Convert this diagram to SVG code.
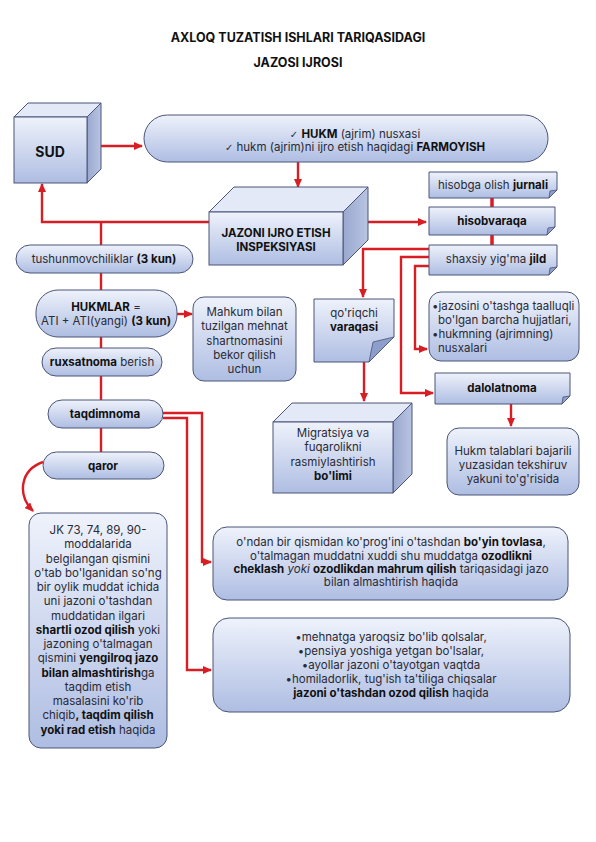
<svg xmlns="http://www.w3.org/2000/svg" width="596" height="842" viewBox="0 0 596 842">
<style>
text{font-family:Inter,"Open Sans","DejaVu Sans",sans-serif;font-size:11.5px;fill:#2a2a35;text-anchor:middle}
.t{font-size:12.5px;font-weight:700;fill:#111}
.b{font-weight:700;fill:#111}
.box{fill:url(#g);stroke:#4b5478;stroke-width:1}
.top{fill:#e3e9f6;stroke:#4b5478;stroke-width:1}
.side{fill:url(#gs);stroke:#4b5478;stroke-width:1}
.fold{fill:#8d9ecb;stroke:#4b5478;stroke-width:0.8}
.c{fill:none;stroke:#d81e25;stroke-width:2.4}
.cm{fill:none;stroke:#d81e25;stroke-width:2.4;marker-end:url(#a)}
.ck{font-family:"DejaVu Sans",sans-serif;font-size:10px}
</style>
<defs>
<linearGradient id="g" x1="0" y1="0" x2="0" y2="1"><stop offset="0" stop-color="#eef2fb"/><stop offset="1" stop-color="#aebde2"/></linearGradient>
<linearGradient id="gs" x1="0" y1="0" x2="1" y2="0"><stop offset="0" stop-color="#9aa8cf"/><stop offset="1" stop-color="#b9c4e2"/></linearGradient>
<marker id="a" markerUnits="userSpaceOnUse" markerWidth="9" markerHeight="8" refX="8" refY="4" orient="auto"><path d="M0,0 L9,4 L0,8 z" fill="#d81e25"/></marker>
</defs>
<rect width="596" height="842" fill="#fff"/>
<text class="t" x="298" y="42">AXLOQ TUZATISH ISHLARI TARIQASIDAGI</text>
<text class="t" x="298" y="67">JAZOSI IJROSI</text>

<g id="connectors">
<path class="cm" d="M101,146 H142"/>
<path class="cm" d="M298,162 V187"/>
<path class="cm" d="M368,222 H426"/>
<path class="cm" d="M209,222 H42 V184"/>
<path class="c" d="M101,222 V245"/>
<path class="c" d="M101,273 V290 M101,337 V348 M101,376 V400 M101,428 V452"/>
<path class="cm" d="M177,314 H192"/>
<path class="c" d="M492,198 V207 M492,235 V245" style="stroke-width:3.5"/>
<path class="cm" d="M429,249 H363 V297"/>
<path class="cm" d="M429,257 H401 V393 H433"/>
<path class="cm" d="M429,266 H415 V349 H427"/>
<path class="cm" d="M364,362 V401"/>
<path class="cm" d="M511,404 V426"/>
<path class="cm" d="M163,413 H202 V562 H211"/>
<path class="cm" d="M163,418 H187 V670 H211"/>
<path class="cm" d="M43,462 C20,470 17,495 33,511"/>
</g>

<g id="sud">
<path class="top" d="M14,117 L28,103 H101 L87,117 Z"/>
<path class="side" d="M87,117 L101,103 V169 L87,183 Z"/>
<rect class="box" x="14" y="117" width="73" height="66"/>
<text class="b" x="50" y="157" style="font-size:14px">SUD</text>
</g>

<g id="hukm">
<rect class="box" x="144" y="115" width="404" height="47" rx="23.5"/>
<text x="355" y="138"><tspan class="ck">✓</tspan>  <tspan class="b">HUKM</tspan> (ajrim) nusxasi</text>
<text x="355" y="151"><tspan class="ck">✓</tspan>  hukm (ajrim)ni ijro etish haqidagi <tspan class="b">FARMOYISH</tspan></text>
</g>

<g id="inspeksiya">
<path class="top" d="M209,212 L234,187 H368 L343,212 Z"/>
<path class="side" d="M343,212 L368,187 V240 L343,265 Z"/>
<rect class="box" x="209" y="212" width="134" height="53"/>
<text class="b" x="276" y="237">JAZONI IJRO ETISH</text>
<text class="b" x="276" y="251">INSPEKSIYASI</text>
</g>

<g id="jurnali">
<path class="box" d="M429,172 H557 V190 L549,198 H429 Z"/>
<path class="fold" d="M557,190 L549,198 L550,191 Z"/>
<text x="493" y="189">hisobga olish <tspan class="b">jurnali</tspan></text>
</g>
<g id="hisobvaraqa">
<path class="box" d="M429,207 H555 V227 L547,235 H429 Z"/>
<path class="fold" d="M555,227 L547,235 L548,228 Z"/>
<text class="b" x="492" y="225">hisobvaraqa</text>
</g>
<g id="jild">
<path class="box" d="M429,245 H557 V267 L549,275 H429 Z"/>
<path class="fold" d="M557,267 L549,275 L550,268 Z"/>
<text x="496" y="263">shaxsiy yig'ma <tspan class="b">jild</tspan></text>
</g>

<g id="tushunmovchiliklar">
<rect class="box" x="16" y="245" width="177" height="28" rx="14"/>
<text x="104" y="263">tushunmovchiliklar <tspan class="b">(3 kun)</tspan></text>
</g>
<g id="hukmlar">
<rect class="box" x="36" y="290" width="141" height="47" rx="22"/>
<text x="106" y="311"><tspan class="b">HUKMLAR</tspan> =</text>
<text x="106" y="325">ATI + ATI(yangi) <tspan class="b">(3 kun)</tspan></text>
</g>
<g id="mahkum">
<rect class="box" x="193" y="297" width="103" height="84" rx="11"/>
<text x="244.5" y="316">Mahkum bilan</text>
<text x="244.5" y="330">tuzilgan mehnat</text>
<text x="244.5" y="345">shartnomasini</text>
<text x="244.5" y="359">bekor qilish</text>
<text x="244.5" y="373">uchun</text>
</g>
<g id="ruxsatnoma">
<rect class="box" x="42" y="348" width="120" height="28" rx="14"/>
<text x="102" y="366"><tspan class="b">ruxsatnoma</tspan> berish</text>
</g>
<g id="taqdimnoma">
<rect class="box" x="48" y="400" width="115" height="28" rx="14"/>
<text class="b" x="105" y="418">taqdimnoma</text>
</g>
<g id="qaror">
<rect class="box" x="43" y="452" width="121" height="27" rx="13.5"/>
<text class="b" x="103" y="470">qaror</text>
</g>

<g id="jk">
<rect class="box" x="29" y="513" width="138" height="235" rx="12"/>
<text x="98" y="534">JK 73, 74, 89, 90-</text>
<text x="98" y="548">moddalarida</text>
<text x="98" y="562.5">belgilangan qismini</text>
<text x="98" y="577">o'tab bo'lganidan so'ng</text>
<text x="98" y="591">bir oylik muddat ichida</text>
<text x="98" y="605">uni jazoni o'tashdan</text>
<text x="98" y="619.5">muddatidan ilgari</text>
<text x="98" y="634"><tspan class="b">shartli ozod qilish</tspan> yoki</text>
<text x="98" y="648">jazoning o'talmagan</text>
<text x="98" y="662">qismini <tspan class="b">yengilroq jazo</tspan></text>
<text x="98" y="676.5"><tspan class="b">bilan almashtirish</tspan>ga</text>
<text x="98" y="691">taqdim etish</text>
<text x="98" y="705">masalasini ko'rib</text>
<text x="98" y="719">chiqib<tspan class="b">, taqdim qilish</tspan></text>
<text x="98" y="733.5"><tspan class="b">yoki rad etish</tspan> haqida</text>
</g>

<g id="qoriqchi">
<path class="box" d="M314,299 H394 V337 L369,362 H314 Z"/>
<path class="fold" d="M394,337 L369,362 L373,342 Z"/>
<text x="354" y="317">qo'riqchi</text>
<text class="b" x="354" y="331">varaqasi</text>
</g>

<g id="hujjatlar">
<rect class="box" x="429" y="292" width="150" height="69" rx="12"/>
<text x="432" y="310" style="text-anchor:start">•jazosini o'tashga taalluqli</text>
<text x="438" y="324" style="text-anchor:start">bo'lgan barcha hujjatlari,</text>
<text x="432" y="338" style="text-anchor:start">•hukmning (ajrimning)</text>
<text x="438" y="352" style="text-anchor:start">nusxalari</text>
</g>

<g id="dalolatnoma">
<path class="box" d="M435,373 H570 V396 L562,404 H435 Z"/>
<path class="fold" d="M570,396 L562,404 L563,397 Z"/>
<text class="b" x="502" y="392">dalolatnoma</text>
</g>

<g id="migratsiya">
<path class="top" d="M273,422 L292,403 H412 L393,422 Z"/>
<path class="side" d="M393,422 L412,403 V474 L393,493 Z"/>
<rect class="box" x="273" y="422" width="120" height="71"/>
<text x="333" y="437">Migratsiya va</text>
<text x="333" y="451">fuqarolikni</text>
<text x="333" y="466">rasmiylashtirish</text>
<text class="b" x="333" y="480">bo'limi</text>
</g>

<g id="tekshiruv">
<rect class="box" x="447" y="428" width="132" height="67" rx="12"/>
<text x="513" y="455">Hukm talablari bajarili</text>
<text x="513" y="469">yuzasidan tekshiruv</text>
<text x="513" y="483">yakuni to'g'risida</text>
</g>

<g id="bo-yin-tovlasa">
<rect class="box" x="213" y="527" width="355" height="73" rx="14"/>
<text x="391" y="546">o'ndan bir qismidan ko'prog'ini o'tashdan <tspan class="b">bo'yin tovlasa</tspan>,</text>
<text x="391" y="560">o'talmagan muddatni xuddi shu muddatga <tspan class="b">ozodlikni</tspan></text>
<text x="391" y="573"><tspan class="b">cheklash</tspan> <tspan font-style="italic">yoki</tspan> <tspan class="b">ozodlikdan mahrum qilish</tspan> tariqasidagi jazo</text>
<text x="391" y="586">bilan almashtirish haqida</text>
</g>

<g id="ozod-qilish">
<rect class="box" x="213" y="618" width="357" height="94" rx="16"/>
<text x="391" y="641">•mehnatga yaroqsiz bo'lib qolsalar,</text>
<text x="391" y="655">•pensiya yoshiga yetgan bo'lsalar,</text>
<text x="391" y="669">•ayollar jazoni o'tayotgan vaqtda</text>
<text x="391" y="683">•homiladorlik, tug'ish ta'tiliga chiqsalar</text>
<text x="391" y="697"><tspan class="b">jazoni o'tashdan ozod qilish</tspan> haqida</text>
</g>
</svg>
